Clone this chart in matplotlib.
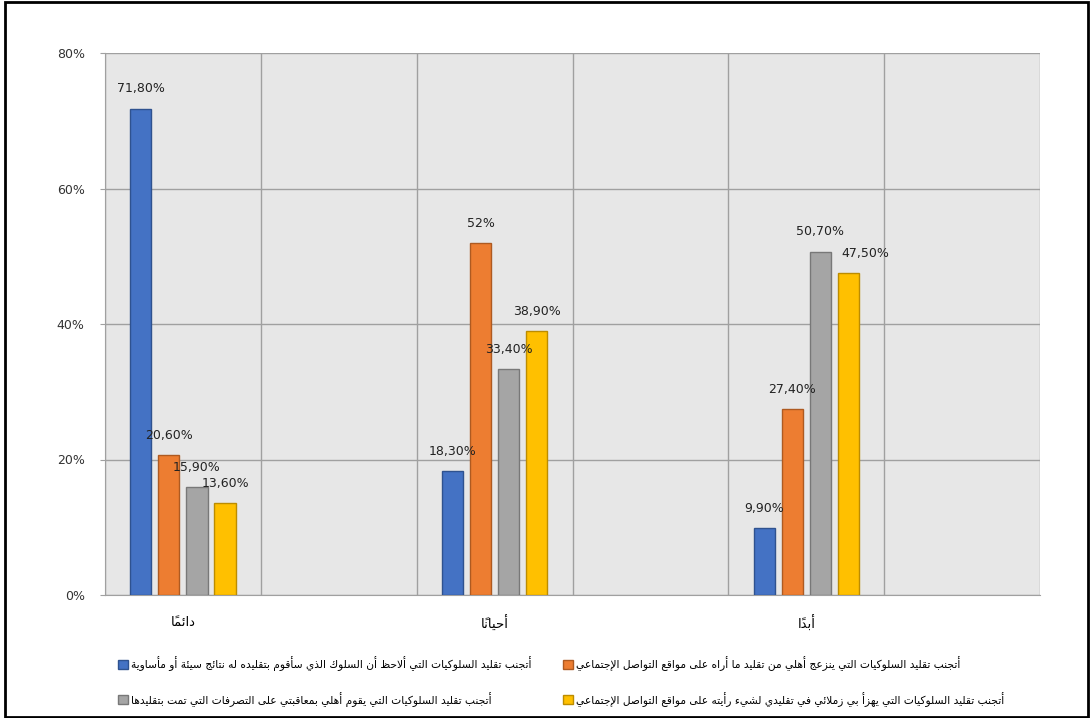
import matplotlib
matplotlib.use("Agg")
import matplotlib.pyplot as plt
from matplotlib.patches import Rectangle
import numpy as np

categories = ["دائماً", "أحياناً", "أبداً"]
series_names = [
    "أتجنب تقليد السلوكيات التي ألاحظ أن السلوك الذي سأقوم بتقليده له نتائج سيئة أو مأساوية",
    "أتجنب تقليد السلوكيات التي ينزعج أهلي من تقليد ما أراه على مواقع التواصل الإجتماعي",
    "أتجنب تقليد السلوكيات التي يقوم أهلي بمعاقبتي على التصرفات التي تمت بتقليدها",
    "أتجنب تقليد السلوكيات التي يهزأ بي زملائي في تقليدي لشيء رأيته على مواقع التواصل الإجتماعي",
]
values = [
    [71.8, 18.3, 9.9],
    [20.6, 52.0, 27.4],
    [15.9, 33.4, 50.7],
    [13.6, 38.9, 47.5],
]
colors = ["#4472C4", "#ED7D31", "#A5A5A5", "#FFC000"]
edges = ["#2F528F", "#AE5A21", "#787878", "#BC8C00"]
yticks = [0, 20, 40, 60, 80]


# --- minimal Arabic shaping: contextual forms + right-to-left visual order ---
_LETTERS = "ءآأؤإئابةتثجحخدذرزسشصضطظعغفقكلمنهوىي"
_RIGHT_ONLY = set("آأؤإاةدذرزوى")
_FORMS = {}
_cp = 0xFE80
for ch in _LETTERS:
    n = 1 if ch == "ء" else (2 if ch in _RIGHT_ONLY else 4)
    _FORMS[ch] = [chr(_cp + k) for k in range(n)]
    _cp += n
_LAM_ALEF = {"آ": 0xFEF5, "أ": 0xFEF7, "إ": 0xFEF9, "ا": 0xFEFB}


def _is_mark(c):
    return "\u064B" <= c <= "\u0652"


def shape(text):
    # group into clusters of base letter + following marks
    clusters = []
    for c in text:
        if _is_mark(c) and clusters:
            clusters[-1][1].append(c)
        else:
            clusters.append([c, []])
    # merge lam + alef into one ligature cluster
    merged = []
    i = 0
    while i < len(clusters):
        c, marks = clusters[i]
        if c == "ل" and i + 1 < len(clusters) and clusters[i + 1][0] in _LAM_ALEF:
            merged.append(["LA" + clusters[i + 1][0], marks + clusters[i + 1][1]])
            i += 2
        else:
            merged.append([c, marks])
            i += 1

    def joins_left(c):
        return c in _FORMS and len(_FORMS[c]) == 4

    def joins_right(c):
        return c.startswith("LA") or (c in _FORMS and len(_FORMS[c]) > 1)

    out = []
    for j, (c, marks) in enumerate(merged):
        prev = merged[j - 1][0] if j > 0 else ""
        nxt = merged[j + 1][0] if j + 1 < len(merged) else ""
        from_prev = joins_left(prev) and joins_right(c)
        if c.startswith("LA"):
            g = chr(_LAM_ALEF[c[2]] + (1 if from_prev else 0))
        elif c in _FORMS:
            forms = _FORMS[c]
            to_next = joins_left(c) and joins_right(nxt)
            if len(forms) == 4:
                idx = {(False, False): 0, (True, False): 1,
                       (False, True): 2, (True, True): 3}[(from_prev, to_next)]
            elif len(forms) == 2:
                idx = 1 if from_prev else 0
            else:
                idx = 0
            g = forms[idx]
        else:
            g = c
        out.append(g + "".join(marks))
    return "".join(reversed(out))


def fmt(v):
    if float(v).is_integer():
        return f"{int(v)}%"
    return f"{v:.2f}".replace(".", ",") + "%"


plt.rcParams["font.family"] = ["DejaVu Sans"]

fig = plt.figure(figsize=(10.9, 7.18), dpi=100)
ax = fig.add_axes([105 / 1090, 1 - 595 / 718, 935 / 1090, 542 / 718])
ax.set_facecolor("#E7E7E7")

n_cat = len(categories)
x = np.arange(n_cat) + 0.25
width = 0.068
pitch = 0.09
label_dx = {(3, 2): 0.055}
handles = []
for s, (name, vals) in enumerate(zip(series_names, values)):
    pos = x + (s - 1.5) * pitch
    bars = ax.bar(pos, vals, width, color=colors[s], edgecolor=edges[s],
                  linewidth=1, label=shape(name), zorder=3)
    handles.append(bars)
    for k, (px, v) in enumerate(zip(pos, vals)):
        ax.annotate(fmt(v), (px + label_dx.get((s, k), 0), v), xytext=(0, 9.5),
                    textcoords="offset points", ha="center", va="bottom",
                    fontsize=9, color="#222222", zorder=4)

ax.set_xlim(0, n_cat)
ax.set_ylim(0, 80)
ax.set_yticks(yticks)
ax.set_yticklabels([f"{t}%" for t in yticks], fontsize=9, color="#333333")
ax.set_xticks(x)
ax.set_xticklabels([shape(c) for c in categories], fontsize=9.5)
ax.set_xticks(np.arange(0, n_cat + 0.01, 0.5), minor=True)
ax.tick_params(axis="x", which="both", length=0, pad=15)
ax.tick_params(axis="y", length=3.6, color="#A0A0A0", pad=11)
ax.grid(True, which="minor", axis="x", color="#A0A0A0", lw=1, zorder=1)
ax.grid(True, which="major", axis="y", color="#A0A0A0", lw=1, zorder=1)
ax.grid(False, which="major", axis="x")
for side in ["top", "right"]:
    ax.spines[side].set_visible(False)
for side in ["left", "bottom"]:
    ax.spines[side].set_color("#A0A0A0")

# two legend columns: series 1 & 3 on the left, 2 & 4 on the right
legend_kw = dict(loc="upper left", frameon=False, fontsize=7.7,
                 handlelength=0.9, handleheight=0.9, handletextpad=0.3,
                 labelspacing=1.9, borderaxespad=0,
                 bbox_transform=fig.transFigure)
leg1 = fig.legend([handles[0], handles[2]],
                  [shape(series_names[0]), shape(series_names[2])],
                  bbox_to_anchor=(114 / 1090, 1 - 652 / 718), **legend_kw)
leg2 = fig.legend([handles[1], handles[3]],
                  [shape(series_names[1]), shape(series_names[3])],
                  bbox_to_anchor=(559 / 1090, 1 - 652 / 718), **legend_kw)

# outer chart border
fig.patches.append(Rectangle((5 / 1090, 1 / 718), 1083 / 1090, 715 / 718,
                             transform=fig.transFigure, fill=False,
                             edgecolor="black", lw=2))

fig.savefig("out.png", dpi=100)
